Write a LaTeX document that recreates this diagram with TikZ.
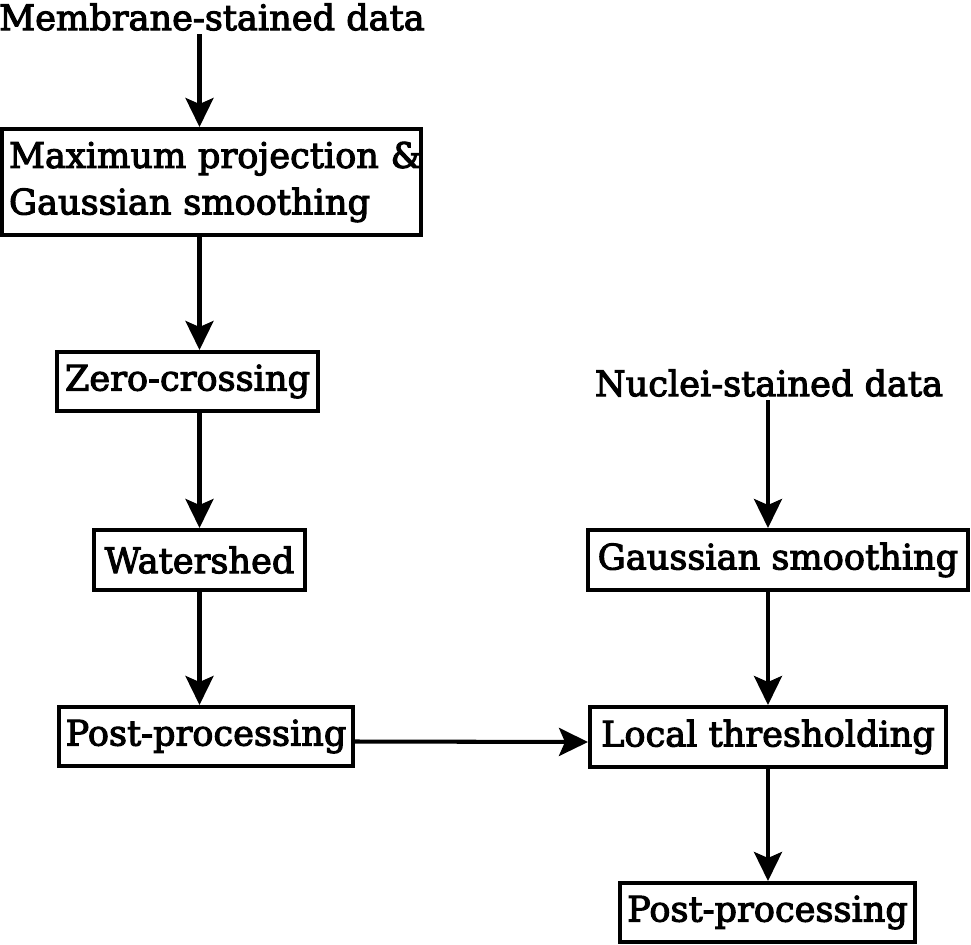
\documentclass[tikz,border=0pt]{standalone}
\usepackage{fontspec}
\setmainfont{DejaVu Serif}[FakeBold=3]
\usetikzlibrary{arrows.meta,positioning,calc}

\begin{document}
\begin{tikzpicture}[
  x=0.02cm,y=-0.02cm,
  box/.style={draw, line width=2.3pt, align=center, inner sep=0pt, font=\fontsize{20}{26.5}\selectfont},
  lbl/.style={align=center, inner sep=2pt, font=\fontsize{20}{26.5}\selectfont},
  arr/.style={-{Stealth[length=0.58cm,width=0.56cm,inset=0.12cm]}, line width=2.3pt}
]
\useasboundingbox (0,0) rectangle (971,944);
% left column: membrane
\node[lbl] (mem) at (212,17) {Membrane-stained data};
\node[box, minimum width=8.38cm, minimum height=2.12cm, text width=8.1cm, align=left] (proj) at (211.5,182) {\makebox[8.1cm][l]{Maximum projection \&}\\Gaussian smoothing};
\node[box, minimum width=5.22cm, minimum height=1.18cm] (zero) at (187.5,381.5) {Zero-crossing};
\node[box, minimum width=4.22cm, minimum height=1.2cm] (water) at (199.5,560) {Watershed};
\node[box, minimum width=5.88cm, minimum height=1.18cm] (post1) at (206,736.5) {Post-processing};
% right column: nuclei
\node[lbl] (nuc) at (769,383) {Nuclei-stained data};
\node[box, minimum width=7.6cm, minimum height=1.2cm] (gauss) at (778,560) {Gaussian smoothing};
\node[box, minimum width=7.12cm, minimum height=1.2cm] (thresh) at (768,737) {Local thresholding};
\node[box, minimum width=5.9cm, minimum height=1.18cm] (post2) at (767.5,912.5) {Post-processing};
\draw[arr] (mem.south -| water) -- (proj.north -| water);
\draw[arr] (proj.south -| water) -- (zero.north -| water);
\draw[arr] (zero.south -| water) -- (water.north);
\draw[arr] (water.south) -- (post1.north -| water);
\draw[arr] ([yshift=-0.1cm]post1.east) -- ([yshift=-0.1cm]thresh.west);
\draw[arr] (nuc.south -| thresh) -- (gauss.north -| thresh);
\draw[arr] (gauss.south -| thresh) -- (thresh.north);
\draw[arr] (thresh.south) -- (post2.north -| thresh);
\end{tikzpicture}
\end{document}
